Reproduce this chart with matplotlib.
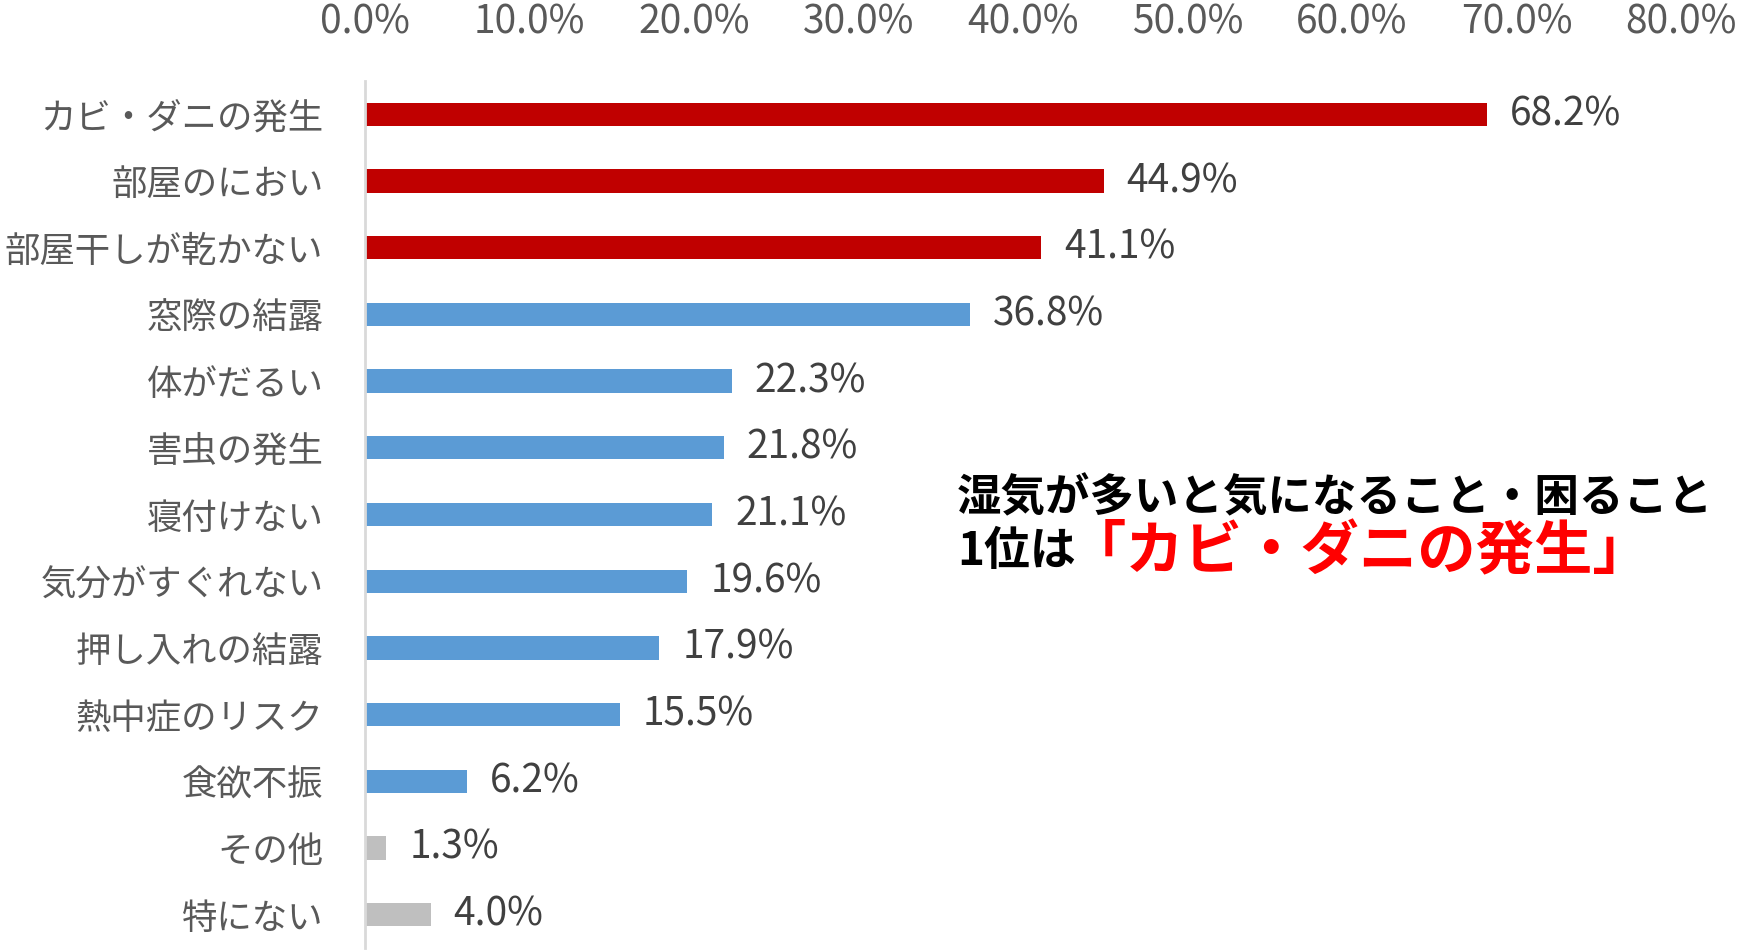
import matplotlib
matplotlib.use("Agg")
import matplotlib.pyplot as plt
from matplotlib.ticker import FuncFormatter

plt.rcParams['font.family'] = ['Noto Sans CJK JP', 'DejaVu Sans']

categories = ["カビ・ダニの発生", "部屋のにおい", "部屋干しが乾かない", "窓際の結露",
              "体がだるい", "害虫の発生", "寝付けない", "気分がすぐれない",
              "押し入れの結露", "熱中症のリスク", "食欲不振", "その他", "特にない"]
values = [68.2, 44.9, 41.1, 36.8, 22.3, 21.8, 21.1, 19.6, 17.9, 15.5, 6.2, 1.3, 4.0]
groups = ["top", "top", "top", "mid", "mid", "mid", "mid", "mid", "mid", "mid", "mid", "other", "other"]
group_colors = {"top": "#C00000", "mid": "#5B9BD5", "other": "#BFBFBF"}
xticks = [0, 10, 20, 30, 40, 50, 60, 70, 80]

title_line1 = "湿気が多いと気になること・困ること"
title_line2a = "1位は"
title_line2b = "「カビ・ダニの発生」"

fig = plt.figure(figsize=(17.4, 9.5), dpi=100)
ax = fig.add_axes([365/1740, 1-948/950, (1681-365)/1740, (948-81)/950])

ypos = list(range(len(categories)))
colors = [group_colors[g] for g in groups]
ax.barh(ypos, values, height=0.35, color=colors)

for y, v in zip(ypos, values):
    ax.annotate(f"{v:.1f}%", xy=(v, y), xytext=(16.5, 0), textcoords="offset points",
                ha="left", va="center", fontsize=28, color="#404040")

ax.set_xlim(0, 80)
ax.set_ylim(len(categories) - 0.5, -0.5)
ax.set_yticks(ypos)
ax.set_yticklabels(categories, fontsize=25.5, color="#595959")
ax.set_xticks(xticks)
ax.xaxis.set_major_formatter(FuncFormatter(lambda x, p: f"{x:.1f}%"))
ax.xaxis.tick_top()
ax.tick_params(axis="x", length=0, pad=28, labelsize=28, labelcolor="#595959")
ax.tick_params(axis="y", length=0, pad=30)
for s in ["top", "right", "bottom"]:
    ax.spines[s].set_visible(False)
ax.spines["left"].set_color("#D9D9D9")
ax.spines["left"].set_linewidth(2)

fig.text(957/1740, 1-498/950, title_line1, fontsize=32, fontweight="bold",
         color="black", ha="left", va="center")
fig.text(957/1740, 1-552/950, title_line2a, fontsize=33, fontweight="bold",
         color="black", ha="left", va="center")
fig.text(1068/1740, 1-552/950, title_line2b, fontsize=42, fontweight="bold",
         color="#FF0000", ha="left", va="center")

fig.savefig("out.png", dpi=100)
